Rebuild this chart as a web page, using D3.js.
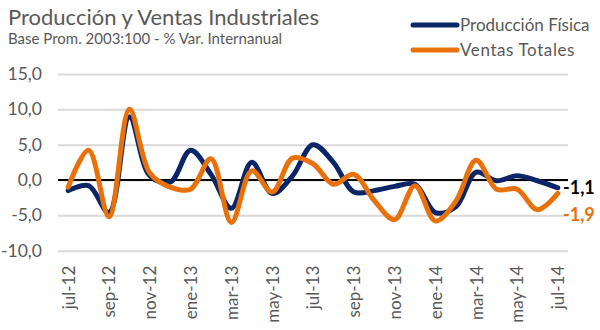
<!DOCTYPE html>
<html>
<head>
<meta charset="utf-8">
<script src="https://cdn.jsdelivr.net/npm/d3@7"></script>
<style>
  html, body { margin: 0; padding: 0; background: #fff; }
  svg { display: block; font-family: Lato, "Open Sans", sans-serif; }
</style>
</head>
<body>
<svg id="chart" width="600" height="330"></svg>
<script>
const months = ["jul-12","ago-12","sep-12","oct-12","nov-12","dic-12","ene-13","feb-13","mar-13","abr-13","may-13","jun-13","jul-13","ago-13","sep-13","oct-13","nov-13","dic-13","ene-14","feb-14","mar-14","abr-14","may-14","jun-14","jul-14"];
const produccion = [-1.5, -0.8, -4.6, 8.9, 0.6, -0.3, 4.2, 0.8, -4.0, 2.5, -1.9, 0.6, 5.0, 2.5, -1.7, -1.5, -0.9, -0.6, -4.6, -3.8, 1.1, -0.1, 0.6, -0.1, -1.1];
const ventas = [-1.0, 4.2, -5.2, 10.0, 1.0, -1.0, -1.3, 3.0, -6.0, 1.3, -1.7, 3.1, 2.3, -0.6, 0.8, -2.9, -5.6, -0.8, -5.8, -3.0, 2.8, -1.3, -1.3, -4.2, -1.9];
const yTicks = [-10, -5, 0, 5, 10, 15];
const seriesNames = ["Producción Física", "Ventas Totales"];
const seriesColors = ["#0b2668", "#e8710a"];
const title = "Producción y Ventas Industriales";
const subtitle = "Base Prom. 2003:100 - % Var. Internanual";

const svg = d3.select("#chart");
const pLeft = 58, pRight = 568, pTop = 74, pBottom = 250.7;
const x = d3.scalePoint().domain(months).range([pLeft, pRight]).padding(0.5);
const y = d3.scaleLinear().domain([-10, 15]).range([pBottom, pTop]);
const fmt = v => d3.format(".1f")(v).replace(".", ",").replace("−", "-");
const gray = "#595959";

// title
svg.append("text").attr("x", 8).attr("y", 25).attr("font-size", 22).attr("fill", gray).text(title);
svg.append("text").attr("x", 8).attr("y", 44).attr("font-size", 15).attr("fill", gray).text(subtitle);

// y axis with gridlines
const yAxis = svg.append("g").attr("transform", `translate(${pLeft},0)`)
  .call(d3.axisLeft(y).tickValues(yTicks).tickSize(-(pRight - pLeft)).tickPadding(16).tickFormat(fmt));
yAxis.select(".domain").remove();
yAxis.selectAll(".tick line").attr("stroke", "#d9d9d9").attr("stroke-width", 2);
yAxis.selectAll(".tick text").attr("font-size", 17.5).attr("fill", gray).attr("font-family", "Lato, sans-serif");

// zero line
svg.append("line").attr("x1", pLeft).attr("x2", pRight).attr("y1", y(0)).attr("y2", y(0))
  .attr("stroke", "#000").attr("stroke-width", 2);

// x axis labels
const xAxis = svg.append("g").attr("transform", `translate(0,${pBottom})`)
  .call(d3.axisBottom(x).tickValues(months.filter((d, i) => i % 2 === 0)).tickSize(0));
xAxis.select(".domain").remove();
xAxis.selectAll(".tick text")
  .attr("font-size", 17).attr("fill", gray).attr("font-family", "Lato, sans-serif")
  .attr("text-anchor", "end").attr("dy", "0.35em")
  .attr("transform", "translate(0,15) rotate(-90)").attr("x", 0).attr("y", 0);

// lines
const line = d3.line().x((d, i) => x(months[i])).y(d => y(d)).curve(d3.curveCatmullRom.alpha(0.5));
[produccion, ventas].forEach((s, k) => {
  svg.append("path").datum(s).attr("d", line).attr("fill", "none")
    .attr("stroke", seriesColors[k]).attr("stroke-width", 5)
    .attr("stroke-linejoin", "round").attr("stroke-linecap", "round");
});

// end labels
svg.append("text").attr("x", 563).attr("y", y(produccion[produccion.length - 1]) + 6)
  .attr("font-size", 18).attr("font-weight", "bold").attr("fill", "#000").text(fmt(produccion[produccion.length - 1]));
svg.append("text").attr("x", 563).attr("y", y(ventas[ventas.length - 1]) + 28)
  .attr("font-size", 18).attr("font-weight", "bold").attr("fill", seriesColors[1]).text(fmt(ventas[ventas.length - 1]));

// legend
seriesNames.forEach((n, k) => {
  const ly = 25 + k * 25;
  svg.append("line").attr("x1", 413).attr("x2", 457).attr("y1", ly).attr("y2", ly)
    .attr("stroke", seriesColors[k]).attr("stroke-width", 5).attr("stroke-linecap", "round");
  svg.append("text").attr("x", 460).attr("y", ly + 6).attr("font-size", 17)
    .attr("letter-spacing", k === 1 ? 0.6 : 0).attr("fill", gray).text(n);
});
</script>
</body>
</html>
